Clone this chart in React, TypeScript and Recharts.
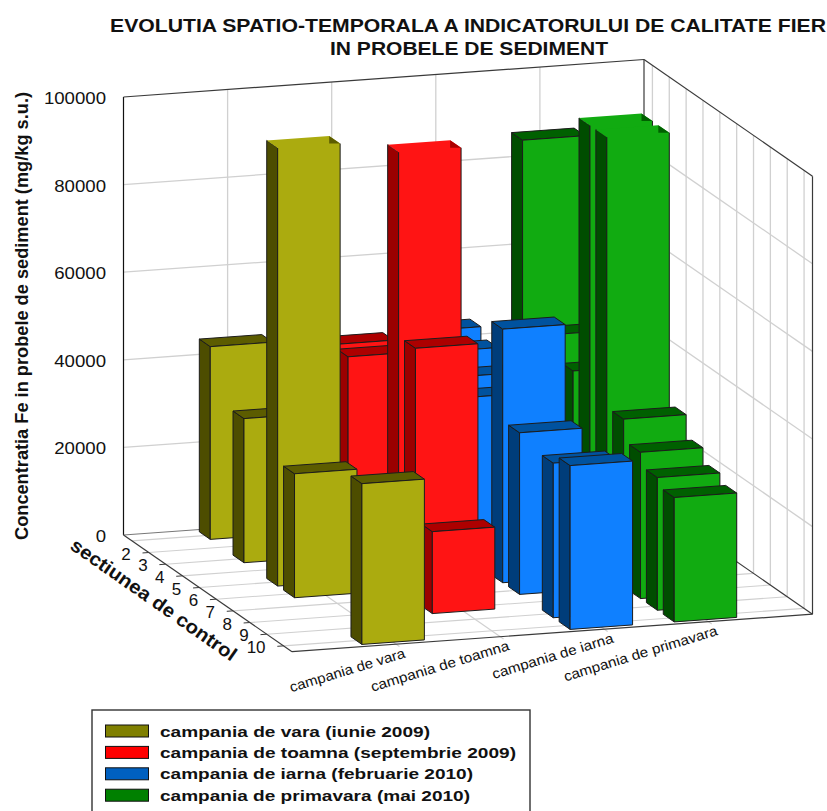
import { ScatterChart, Scatter, XAxis, YAxis, Customized } from 'recharts'

const WIDTH = 827
const HEIGHT = 811
const FONT = '"Liberation Sans", Arial, sans-serif'

// values in mg/kg per control section 1..10, null where no bar is drawn
const sections = [1, 2, 3, 4, 5, 6, 7, 8, 9, 10]
const vara = [44000, null, 32900, null, 100000, 28300, null, null, null, 36700]
const toamna = [null, 45400, 45300, null, null, 100000, 57900, 18700, null, null]
const iarna = [44100, 42000, 38900, 37000, null, 57900, 36900, null, 35300, 37400]
const primavara = [86000, null, 47000, 41300, 100000, 100000, 38300, 33400, 30300, 28400]

const campaigns = ['campania de vara', 'campania de toamna', 'campania de iarna', 'campania de primavara']
const campaignWidths = [120, 144, 126, 160]
const valueTicks = [0, 20000, 40000, 60000, 80000, 100000]
const sectionTicks = [2, 3, 4, 5, 6, 7, 8, 9, 10]
const legendNames = [
  'campania de vara (iunie 2009)',
  'campania de toamna (septembrie 2009)',
  'campania de iarna (februarie 2010)',
  'campania de primavara (mai 2010)',
]
const legendWidths = [270, 356, 313, 310]
const legendColors = ['#808000', '#ff0000', '#0060c0', '#008000']

const palette = [
  { front: '#abab0f', side: '#4d4d00', top: '#5c5c00' },
  { front: '#ff1414', side: '#9b0000', top: '#ad0000' },
  { front: '#0f80ff', side: '#003d7a', top: '#00529f' },
  { front: '#11ab11', side: '#004d00', top: '#006000' },
]

// oblique projection of the 3d box onto the page
const ORIGIN = { x: 123.5, y: 535 }
const U = { x: 520.5, y: -37.5 }
const V = { x: 168.5, y: 116.7 }
const BOX_HEIGHT = 438
const VALUE_MAX = 100000
const HALF_W = 0.06
const HALF_D = 0.0325

const project = (u: number, v: number, value = 0) => ({
  x: ORIGIN.x + u * U.x + v * V.x,
  y: ORIGIN.y + u * U.y + v * V.y - (Math.min(value, VALUE_MAX) / VALUE_MAX) * BOX_HEIGHT,
})
const sectionV = (s: number) => (s - 0.5) / 10
const campaignU = (i: number) => (i + 1) / 5

const segment = (a: { x: number; y: number }, b: { x: number; y: number }, stroke: string, sw: number) => ({
  x: a.x, y: a.y, dx: b.x - a.x, dy: b.y - a.y, stroke, sw,
})

const GRID = '#d0d0d0'
const EDGE = '#3a3a3a'
const gridLines: ReturnType<typeof segment>[] = []
for (const t of valueTicks.slice(1, -1)) {
  gridLines.push(segment(project(0, 0, t), project(1, 0, t), GRID, 1.3))
  gridLines.push(segment(project(1, 0, t), project(1, 1, t), GRID, 1.3))
}
for (let i = 0; i < campaigns.length; i++) {
  gridLines.push(segment(project(campaignU(i), 0), project(campaignU(i), 0, VALUE_MAX), GRID, 1.3))
  gridLines.push(segment(project(campaignU(i), 0), project(campaignU(i), 1.02), GRID, 1.1))
}
for (const s of sections) {
  gridLines.push(segment(project(1, sectionV(s)), project(1, sectionV(s), VALUE_MAX), GRID, 1.3))
  gridLines.push(segment(project(0, sectionV(s)), project(1, sectionV(s)), GRID, 1.1))
}
gridLines.push(
  segment(project(0, 0), project(0, 0, VALUE_MAX), '#111', 1.2),
  segment(project(0, 0, VALUE_MAX), project(1, 0, VALUE_MAX), EDGE, 1.2),
  segment(project(1, 0), project(1, 0, VALUE_MAX), EDGE, 1.2),
  segment(project(1, 0, VALUE_MAX), project(1, 1, VALUE_MAX), EDGE, 1.2),
  segment(project(1, 1), project(1, 1, VALUE_MAX), EDGE, 1.2),
  segment(project(0, 0), project(1, 0), '#777', 1),
  segment(project(1, 0), project(1, 1), EDGE, 1.2),
  segment(project(0, 0), project(0, 1), EDGE, 1.2),
  segment(project(0, 1), project(1, 1), EDGE, 1.2),
)
for (const s of sectionTicks) {
  const v = sectionV(s)
  gridLines.push(segment(project(0, v), project(-0.012, v), EDGE, 1))
}

const seriesValues = [vara, toamna, iarna, primavara]
const barsOf = (seriesIndex: number) =>
  seriesValues[seriesIndex].flatMap((value, i) => {
    if (value === null) return []
    const u = campaignU(seriesIndex)
    const v = sectionV(sections[i])
    return [{ ...project(u, v), u, v, value, colors: palette[seriesIndex] }]
  })

const SegmentShape = (props: any) => {
  const { cx, cy, payload: p } = props
  return <line x1={cx} y1={cy} x2={cx + p.dx} y2={cy + p.dy} stroke={p.stroke} strokeWidth={p.sw} />
}

const BarShape = (props: any) => {
  const { cx, cy, payload: p } = props
  const base = project(p.u, p.v)
  const at = (du: number, dv: number, value: number) => {
    const q = project(p.u + du, p.v + dv, value)
    return [cx + q.x - base.x, cy + q.y - base.y]
  }
  const pts = (list: number[][]) => list.map((c) => c.join(',')).join(' ')
  const stroke = '#1c1c1c'
  const blF0 = at(-HALF_W, HALF_D, 0)
  const brF0 = at(HALF_W, HALF_D, 0)
  const blF1 = at(-HALF_W, HALF_D, p.value)
  const brF1 = at(HALF_W, HALF_D, p.value)
  const blB0 = at(-HALF_W, -HALF_D, 0)
  const blB1 = at(-HALF_W, -HALF_D, p.value)
  const brB1 = at(HALF_W, -HALF_D, p.value)
  const clipped = p.value >= VALUE_MAX
  if (clipped) {
    // bar runs through the ceiling of the box: the cut shows the front colour
    return (
      <g>
        <polygon points={pts([blB0, blF0, blF1, blB1])} fill={p.colors.side} stroke={stroke} strokeWidth={1} />
        <polygon points={pts([blF0, brF0, brF1, brB1, blB1, blF1])} fill={p.colors.front} />
        <polygon points={pts([brB1, brF1, [brB1[0], brF1[1]]])} fill={p.colors.top} />
        <polyline points={pts([blF1, blF0, brF0, brF1])} fill="none" stroke={stroke} strokeWidth={1} />
      </g>
    )
  }
  return (
    <g>
      <polygon points={pts([blB0, blF0, blF1, blB1])} fill={p.colors.side} stroke={stroke} strokeWidth={1} />
      <polygon points={pts([blB1, blF1, brF1, brB1])} fill={p.colors.top} stroke={stroke} strokeWidth={1} />
      <polygon points={pts([blF0, brF0, brF1, blF1])} fill={p.colors.front} stroke={stroke} strokeWidth={1} />
    </g>
  )
}

const Labels = () => (
  <g fontFamily={FONT} fill="#111">
    <text x={468} y={32} textAnchor="middle" fontSize={18} fontWeight="bold" textLength={716} lengthAdjust="spacingAndGlyphs">
      EVOLUTIA SPATIO-TEMPORALA A INDICATORULUI DE CALITATE FIER
    </text>
    <text x={469} y={55} textAnchor="middle" fontSize={18} fontWeight="bold" textLength={278} lengthAdjust="spacingAndGlyphs">
      IN PROBELE DE SEDIMENT
    </text>
    <text transform="translate(28,316) rotate(-90)" textAnchor="middle" fontSize={18} fontWeight="bold" textLength={448} lengthAdjust="spacingAndGlyphs">
      Concentratia Fe in probele de sediment (mg/kg s.u.)
    </text>
    <text transform="translate(150,605) rotate(35)" textAnchor="middle" fontSize={19} fontWeight="bold" textLength={198} lengthAdjust="spacingAndGlyphs">
      sectiunea de control
    </text>
    {valueTicks.map((t) => {
      const p = project(0, 0, t)
      const label = String(t)
      return (
        <text key={t} x={p.x - 17.5} y={p.y + 7} textAnchor="end" fontSize={17} textLength={label.length * 10.35} lengthAdjust="spacingAndGlyphs">
          {label}
        </text>
      )
    })}
    {sectionTicks.map((s) => {
      const p = project(0, sectionV(s))
      return (
        <text key={s} x={p.x - 18} y={p.y + 7} textAnchor="end" fontSize={17}>
          {s}
        </text>
      )
    })}
    {campaigns.map((c, i) => {
      const p = project(campaignU(i), 1)
      return (
        <text key={c} transform={`translate(${p.x + 10},${p.y + 13}) rotate(-17)`} textAnchor="end" fontSize={14} textLength={campaignWidths[i]} lengthAdjust="spacingAndGlyphs">
          {c}
        </text>
      )
    })}
    <rect x={92} y={710} width={438} height={110} fill="#fff" stroke="#333" strokeWidth={1.4} />
    {legendNames.map((name, i) => {
      const y = 725 + i * 21.4
      return (
        <g key={name}>
          <rect x={105.5} y={y} width={43} height={12} fill={legendColors[i]} stroke="#111" strokeWidth={1} />
          <text x={160} y={y + 11.5} fontSize={15.5} fontWeight="bold" textLength={legendWidths[i]} lengthAdjust="spacingAndGlyphs">
            {name}
          </text>
        </g>
      )
    })}
  </g>
)

export default function App() {
  return (
    <div style={{ position: 'absolute', left: 0, top: 0, width: WIDTH, height: HEIGHT, background: '#fff', overflow: 'hidden' }}>
      <ScatterChart width={WIDTH} height={HEIGHT} margin={{ top: 0, right: 0, bottom: 0, left: 0 }}>
        <XAxis type="number" dataKey="x" domain={[0, WIDTH]} hide />
        <YAxis type="number" dataKey="y" domain={[0, HEIGHT]} reversed hide />
        <Scatter name="grid" data={gridLines} shape={SegmentShape} isAnimationActive={false} />
        <Scatter name="primavara" data={barsOf(3)} shape={BarShape} isAnimationActive={false} />
        <Scatter name="iarna" data={barsOf(2)} shape={BarShape} isAnimationActive={false} />
        <Scatter name="toamna" data={barsOf(1)} shape={BarShape} isAnimationActive={false} />
        <Scatter name="vara" data={barsOf(0)} shape={BarShape} isAnimationActive={false} />
        <Customized component={Labels} />
      </ScatterChart>
    </div>
  )
}
